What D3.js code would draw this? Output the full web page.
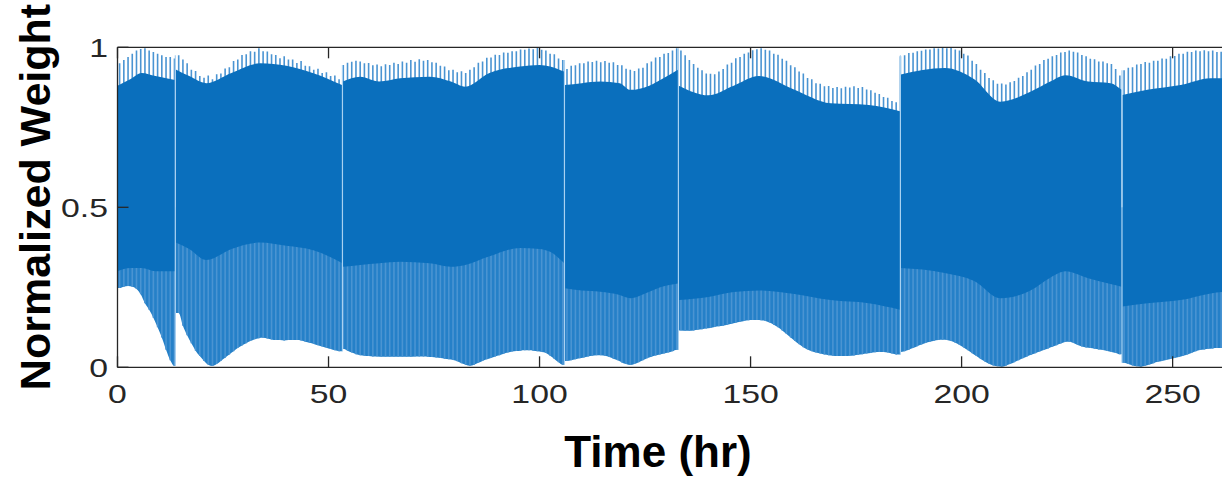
<!DOCTYPE html>
<html>
<head>
<meta charset="utf-8">
<script src="https://cdn.jsdelivr.net/npm/d3@7"></script>
<style>
  html, body { margin: 0; padding: 0; background: #fff; }
  svg { display: block; }
  text { font-family: "Liberation Sans", Arial, Helvetica, sans-serif; }
</style>
</head>
<body>
<svg id="chart" width="1222" height="480"></svg>
<script>
// Hours at which the weights are re-initialised
const resetHours = [13.7, 53.3, 105.9, 132.9, 185.5, 238.0];
const lastHour = 261.7;

// Per-hour extremes of the weight signal (index = hour, sampled mid-hour)
const hourlyPeak = [
  // 0-13
  0.95, 0.96, 0.97, 0.98, 0.99, 0.995, 0.997, 0.99, 0.985, 0.98, 0.975, 0.97, 0.97, 0.965,
  // 14-52
  0.975, 0.962, 0.95, 0.93, 0.926, 0.91, 0.905, 0.912, 0.9, 0.916, 0.918, 0.934, 0.938, 0.957, 0.962,
  0.976, 0.978, 0.988, 0.986, 0.997, 0.988, 0.987, 0.978, 0.976, 0.966, 0.972, 0.962, 0.962, 0.951,
  0.957, 0.942, 0.941, 0.93, 0.933, 0.92, 0.922, 0.91, 0.912, 0.9,
  // 53-105
  0.945, 0.952, 0.955, 0.958, 0.956, 0.95, 0.951, 0.944, 0.946, 0.941, 0.947, 0.945, 0.952, 0.948,
  0.956, 0.952, 0.96, 0.955, 0.963, 0.958, 0.96, 0.953, 0.952, 0.942, 0.94, 0.928, 0.93, 0.922,
  0.925, 0.92, 0.93, 0.938, 0.952, 0.956, 0.967, 0.968, 0.977, 0.976, 0.984, 0.983, 0.988, 0.988,
  0.993, 0.992, 0.996, 0.994, 0.998, 0.992, 0.99, 0.98, 0.978, 0.965, 0.96,
  // 106-132
  0.932, 0.942, 0.944, 0.95, 0.95, 0.956, 0.954, 0.958, 0.953, 0.957, 0.952, 0.953, 0.945, 0.944,
  0.933, 0.93, 0.926, 0.934, 0.936, 0.95, 0.956, 0.968, 0.97, 0.98, 0.982, 0.99, 0.997,
  // 133-184
  0.99, 0.975, 0.96, 0.948, 0.936, 0.928, 0.918, 0.917, 0.916, 0.924, 0.932, 0.946, 0.952, 0.966,
  0.97, 0.98, 0.984, 0.991, 0.994, 0.997, 0.992, 0.99, 0.98, 0.977, 0.964, 0.958, 0.944, 0.938,
  0.924, 0.918, 0.904, 0.9, 0.888, 0.886, 0.878, 0.879, 0.873, 0.876, 0.872, 0.877, 0.874, 0.878,
  0.873, 0.876, 0.868, 0.866, 0.858, 0.854, 0.845, 0.842, 0.832, 0.828,
  // 185-237
  0.972, 0.975, 0.982, 0.983, 0.988, 0.989, 0.993, 0.993, 0.997, 0.996, 0.998, 0.997, 0.998, 0.993,
  0.99, 0.98, 0.974, 0.958, 0.948, 0.93, 0.92, 0.904, 0.897, 0.886, 0.887, 0.884, 0.891, 0.895,
  0.905, 0.91, 0.922, 0.93, 0.943, 0.948, 0.96, 0.964, 0.972, 0.976, 0.984, 0.985, 0.99, 0.986,
  0.984, 0.976, 0.972, 0.964, 0.963, 0.956, 0.956, 0.95, 0.948, 0.932, 0.912,
  // 238-261
  0.928, 0.936, 0.938, 0.946, 0.948, 0.954, 0.952, 0.958, 0.958, 0.965, 0.964, 0.972, 0.973, 0.98,
  0.98, 0.986, 0.985, 0.99, 0.988, 0.991, 0.988, 0.99, 0.985, 0.986
];

const hourlyTrough = [
  // 0-13
  0.248, 0.252, 0.254, 0.252, 0.245, 0.228, 0.2, 0.18, 0.155, 0.125, 0.093, 0.055, 0.022, 0.004,
  // 14-52
  0.17, 0.13, 0.1, 0.075, 0.052, 0.035, 0.02, 0.008, 0.004, 0.01, 0.02, 0.03, 0.04, 0.05, 0.06,
  0.068, 0.075, 0.082, 0.088, 0.091, 0.092, 0.09, 0.087, 0.085, 0.085, 0.084, 0.085, 0.085, 0.085,
  0.084, 0.08, 0.077, 0.073, 0.069, 0.065, 0.061, 0.057, 0.053, 0.05,
  // 53-105
  0.058, 0.052, 0.046, 0.041, 0.038, 0.036, 0.035, 0.034, 0.034, 0.033, 0.033, 0.033, 0.033, 0.033,
  0.033, 0.033, 0.033, 0.034, 0.034, 0.034, 0.033, 0.032, 0.031, 0.029, 0.027, 0.025, 0.023, 0.019,
  0.013, 0.008, 0.005, 0.008, 0.014, 0.02, 0.025, 0.029, 0.034, 0.038, 0.042, 0.046, 0.049, 0.051,
  0.052, 0.053, 0.053, 0.052, 0.05, 0.048, 0.045, 0.036, 0.026, 0.016, 0.008,
  // 106-132
  0.02, 0.022, 0.025, 0.028, 0.031, 0.034, 0.036, 0.038, 0.038, 0.036, 0.032, 0.027, 0.022, 0.015,
  0.01, 0.007, 0.01, 0.016, 0.022, 0.028, 0.033, 0.037, 0.04, 0.043, 0.046, 0.05, 0.055,
  // 133-184
  0.115, 0.114, 0.114, 0.115, 0.117, 0.119, 0.121, 0.123, 0.126, 0.128, 0.13, 0.133, 0.136, 0.139,
  0.142, 0.145, 0.147, 0.148, 0.148, 0.147, 0.145, 0.14, 0.133, 0.125, 0.115, 0.104, 0.093, 0.082,
  0.072, 0.063, 0.056, 0.05, 0.046, 0.043, 0.04, 0.038, 0.036, 0.035, 0.035, 0.035, 0.036, 0.037,
  0.039, 0.041, 0.043, 0.045, 0.047, 0.048, 0.048, 0.046, 0.043, 0.04,
  // 185-237
  0.048, 0.05, 0.055, 0.06, 0.066, 0.071, 0.076, 0.08, 0.083, 0.085, 0.086, 0.085, 0.082, 0.077,
  0.07, 0.062, 0.053, 0.044, 0.035, 0.026, 0.018, 0.011, 0.006, 0.003, 0.002, 0.005, 0.01, 0.016,
  0.022, 0.028, 0.034, 0.039, 0.044, 0.049, 0.054, 0.059, 0.064, 0.069, 0.074, 0.079, 0.08, 0.076,
  0.07, 0.065, 0.062, 0.06, 0.058, 0.056, 0.054, 0.051, 0.048, 0.045, 0.041,
  // 238-261
  0.014, 0.01, 0.006, 0.003, 0.002, 0.005, 0.009, 0.013, 0.017, 0.02, 0.023, 0.026, 0.029, 0.032,
  0.036, 0.04, 0.045, 0.05, 0.054, 0.056, 0.058, 0.059, 0.06, 0.06
];

// Envelope of the dense oscillation band (upper and lower edge)
const bandHours = [
  0, 3, 5.7, 9, 13.6,
  13.8, 17, 21, 27, 33.8, 40, 46.4, 53.2,
  53.4, 57.5, 62, 67, 74, 79, 82.4, 88, 95.4, 100, 102.5, 105.8,
  106, 110, 114.4, 119, 121.5, 126, 128.6, 132.8,
  133, 140, 146, 152, 160, 169, 178, 185.4,
  185.6, 196, 203, 209.2, 216.3, 221, 224.6, 230, 235.3, 237.9,
  238.1, 244, 251.9, 259, 261.7
];
const bandUpper = [
  0.88, 0.90, 0.92, 0.91, 0.898,
  0.931, 0.91, 0.888, 0.92, 0.95, 0.942, 0.919, 0.882,
  0.893, 0.908, 0.893, 0.903, 0.908, 0.893, 0.877, 0.919, 0.94, 0.945, 0.94, 0.924,
  0.882, 0.888, 0.893, 0.888, 0.867, 0.88, 0.898, 0.93,
  0.88, 0.85, 0.88, 0.91, 0.87, 0.825, 0.82, 0.80,
  0.915, 0.935, 0.90, 0.83, 0.861, 0.893, 0.913, 0.893, 0.888, 0.867,
  0.851, 0.867, 0.882, 0.903, 0.903
];
const bandLower = [
  0.30, 0.31, 0.31, 0.30, 0.30,
  0.39, 0.37, 0.335, 0.37, 0.39, 0.38, 0.366, 0.326,
  0.314, 0.32, 0.325, 0.33, 0.325, 0.314, 0.32, 0.346, 0.373, 0.37, 0.361, 0.326,
  0.247, 0.24, 0.236, 0.226, 0.216, 0.236, 0.25, 0.262,
  0.21, 0.22, 0.235, 0.24, 0.23, 0.21, 0.20, 0.18,
  0.31, 0.295, 0.27, 0.216, 0.24, 0.28, 0.30, 0.278, 0.26, 0.252,
  0.19, 0.20, 0.21, 0.231, 0.235
];

const xTicks = [0, 50, 100, 150, 200, 250];
const yTicks = [0, 0.5, 1];
const yTickLabels = ["0", "0.5", "1"];

const svg = d3.select("#chart");
const x = d3.scaleLinear().domain([0, lastHour]).range([117.5, 1222]);
const y = d3.scaleLinear().domain([0, 1]).range([367.3, 47.3]);

const colors = {
  dark: "#0a6fbd",
  mid: "#2580c8",
  spike: "#4a94d2",
  reset: "#a9d1f1",
  axis: "#262626"
};

svg.append("defs").append("clipPath").attr("id", "plotClip")
  .append("rect").attr("x", x(0)).attr("y", y(1) - 1)
  .attr("width", x(lastHour) - x(0)).attr("height", y(0) - y(1) + 2);

const plot = svg.append("g").attr("clip-path", "url(#plotClip)");

// segment boundaries between re-initialisations
const bounds = [0, ...resetHours, lastHour];
const segments = d3.range(bounds.length - 1).map(i => ({ start: bounds[i], end: bounds[i + 1] }));

const hours = hourlyPeak.map((p, h) => ({ t: h + 0.5, peak: p, trough: hourlyTrough[h] }));
const bandPts = bandHours.map((t, i) => ({ t, hi: bandUpper[i], lo: bandLower[i] }));

// lower excursions: filled from each segment's trough up into the band
const troughArea = d3.area()
  .x(d => x(d.t)).y0(y(0.5)).y1(d => y(d.v))
  .curve(d3.curveMonotoneX);

segments.forEach(seg => {
  const inSeg = hours.filter(d => d.t >= seg.start && d.t < seg.end);
  if (!inSeg.length) return;
  const pts = [{ t: seg.start, v: inSeg[0].trough }]
    .concat(inSeg.map(d => ({ t: d.t, v: d.trough })))
    .concat([{ t: seg.end, v: inSeg[inSeg.length - 1].trough }]);
  plot.append("path").attr("d", troughArea(pts)).attr("fill", colors.mid);
});

// one full excursion per hour
plot.append("g").selectAll("line").data(hours).join("line")
  .attr("x1", d => x(d.t)).attr("x2", d => x(d.t))
  .attr("y1", d => y(d.trough)).attr("y2", d => y(d.peak))
  .attr("stroke", colors.spike).attr("stroke-width", 1.6);

// dense oscillation band
const bandArea = d3.area()
  .x(d => x(d.t)).y0(d => y(d.lo)).y1(d => y(d.hi))
  .curve(d3.curveMonotoneX);

segments.forEach(seg => {
  const pts = bandPts.filter(d => d.t >= seg.start && d.t <= seg.end);
  plot.append("path").attr("d", bandArea(pts)).attr("fill", colors.dark);
});

// jumps at re-initialisation
resetHours.forEach(r => {
  const near = hours.filter(d => Math.abs(d.t - r) < 1.2);
  const lo = d3.min(near, d => d.trough);
  const hi = d3.max(near, d => d.peak);
  plot.append("line")
    .attr("x1", x(r)).attr("x2", x(r))
    .attr("y1", y(lo)).attr("y2", y(hi))
    .attr("stroke", colors.reset).attr("stroke-width", 1.2);
});

// axes box with inward ticks
const axes = svg.append("g").attr("stroke", colors.axis).attr("stroke-width", 1.3).attr("fill", "none");
axes.append("line").attr("x1", x(0)).attr("x2", 1222).attr("y1", y(0)).attr("y2", y(0));
axes.append("line").attr("x1", x(0)).attr("x2", 1222).attr("y1", y(1)).attr("y2", y(1));
axes.append("line").attr("x1", x(0)).attr("x2", x(0)).attr("y1", y(0)).attr("y2", y(1));

const tickLen = 11;
xTicks.forEach(t => {
  axes.append("line").attr("x1", x(t)).attr("x2", x(t)).attr("y1", y(0)).attr("y2", y(0) - tickLen);
  axes.append("line").attr("x1", x(t)).attr("x2", x(t)).attr("y1", y(1)).attr("y2", y(1) + tickLen);
});
yTicks.forEach(t => {
  axes.append("line").attr("x1", x(0)).attr("x2", x(0) + tickLen).attr("y1", y(t)).attr("y2", y(t));
});

// tick labels use a horizontally widened face
const labelStretch = 1.3;
svg.append("g").selectAll("text").data(xTicks).join("text")
  .attr("transform", d => `translate(${x(d)},403) scale(${labelStretch},1)`)
  .attr("text-anchor", "middle")
  .attr("font-size", 26).attr("fill", colors.axis)
  .text(d => d);

svg.append("g").selectAll("text").data(yTicks).join("text")
  .attr("transform", d => `translate(108,${y(d)}) scale(${labelStretch},1)`)
  .attr("dy", "0.36em")
  .attr("text-anchor", "end")
  .attr("font-size", 26).attr("fill", colors.axis)
  .text((d, i) => yTickLabels[i]);

svg.append("text")
  .attr("x", 658).attr("y", 467)
  .attr("text-anchor", "middle")
  .attr("font-size", 44).attr("font-weight", "bold").attr("fill", "#000")
  .text("Time (hr)");

svg.append("text")
  .attr("transform", "translate(50,197) rotate(-90)")
  .attr("text-anchor", "middle")
  .attr("font-size", 43).attr("font-weight", "bold").attr("fill", "#000")
  .text("Normalized Weight");
</script>
</body>
</html>
